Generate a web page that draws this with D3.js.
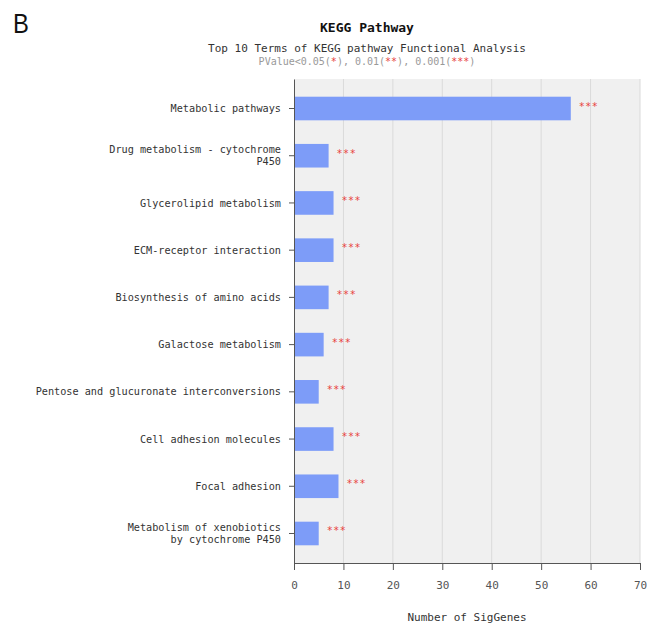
<!DOCTYPE html>
<html>
<head>
<meta charset="utf-8">
<script src="https://cdn.jsdelivr.net/npm/d3@7"></script>
<style>
  body { margin: 0; background: white; }
  text { font-family: "DejaVu Sans Mono", monospace; }
</style>
</head>
<body>
<div id="chart"></div>
<script>
// data
var terms = [
  "Metabolic pathways",
  "Drug metabolism - cytochrome P450",
  "Glycerolipid metabolism",
  "ECM-receptor interaction",
  "Biosynthesis of amino acids",
  "Galactose metabolism",
  "Pentose and glucuronate interconversions",
  "Cell adhesion molecules",
  "Focal adhesion",
  "Metabolism of xenobiotics by cytochrome P450"
];
// how each label is broken into lines
var termLines = [
  ["Metabolic pathways"],
  ["Drug metabolism - cytochrome", "P450"],
  ["Glycerolipid metabolism"],
  ["ECM-receptor interaction"],
  ["Biosynthesis of amino acids"],
  ["Galactose metabolism"],
  ["Pentose and glucuronate interconversions"],
  ["Cell adhesion molecules"],
  ["Focal adhesion"],
  ["Metabolism of xenobiotics", "by cytochrome P450"]
];
var sigGenes = [56, 7, 8, 8, 7, 6, 5, 8, 9, 5];
var stars = ["***", "***", "***", "***", "***", "***", "***", "***", "***", "***"];
var xTicks = [0, 10, 20, 30, 40, 50, 60, 70];

// colors
var barFill = "#7d9cf8";
var plotBg = "#f0f0f0";
var gridColor = "#dadada";
var starColor = "#e8413c";

var width = 656, height = 624;
var margin = {top: 79, right: 16, bottom: 61, left: 294};
var w = width - margin.left - margin.right;
var h = height - margin.top - margin.bottom;

var svg = d3.select("#chart").append("svg")
  .attr("width", width)
  .attr("height", height);

// panel letter
svg.append("text")
  .attr("x", 13)
  .attr("y", 33)
  .style("font-family", "'Liberation Sans Narrow', 'Liberation Sans', sans-serif")
  .style("font-size", "28px")
  .attr("fill", "#111")
  .attr("transform", "translate(13,0) scale(0.85,1) translate(-13,0)")
  .text("B");

// titles
var cx = 367;
svg.append("text")
  .attr("x", cx).attr("y", 32)
  .attr("text-anchor", "middle")
  .style("font-size", "13px")
  .style("font-weight", "bold")
  .attr("fill", "#111")
  .text("KEGG Pathway");

svg.append("text")
  .attr("x", cx).attr("y", 52)
  .attr("text-anchor", "middle")
  .style("font-size", "11px")
  .attr("fill", "#333")
  .text("Top 10 Terms of KEGG pathway Functional Analysis");

var pv = svg.append("text")
  .attr("x", cx).attr("y", 65)
  .attr("text-anchor", "middle")
  .style("font-size", "10px")
  .attr("fill", "#999");
[["PValue<0.05(", null], ["*", 1], ["), 0.01(", null], ["**", 1], ["), 0.001(", null], ["***", 1], [")", null]]
  .forEach(function(p) {
    pv.append("tspan").attr("fill", p[1] ? starColor : "#999").text(p[0]);
  });

var g = svg.append("g")
  .attr("transform", `translate(${margin.left},${margin.top})`);

var x = d3.scaleLinear().domain([0, 70]).range([0, w]);
var y = d3.scaleBand().domain(terms).range([0, h])
  .paddingInner(0.5).paddingOuter(0.375);

// plot background
g.append("rect")
  .attr("width", w).attr("height", h)
  .attr("fill", plotBg);

// grid
g.selectAll("line.grid")
  .data(xTicks.slice(1))
  .enter()
  .append("line")
  .attr("class", "grid")
  .attr("x1", d => x(d)).attr("x2", d => x(d))
  .attr("y1", 0).attr("y2", h)
  .attr("stroke", gridColor)
  .attr("stroke-width", 1);

// bars
g.selectAll("rect.bar")
  .data(terms)
  .enter()
  .append("rect")
  .attr("class", "bar")
  .attr("x", 0)
  .attr("y", d => y(d))
  .attr("width", (d, i) => x(sigGenes[i]))
  .attr("height", y.bandwidth())
  .attr("fill", barFill);

// significance stars
g.selectAll("text.star")
  .data(terms)
  .enter()
  .append("text")
  .attr("class", "star")
  .attr("x", (d, i) => x(sigGenes[i]) + 8)
  .attr("y", d => y(d) + y.bandwidth() / 2 + 1)
  .style("font-size", "10px")
  .style("letter-spacing", "0.5px")
  .attr("fill", starColor)
  .text((d, i) => stars[i]);

// x axis
var xAxis = g.append("g")
  .attr("transform", `translate(0,${h})`)
  .call(d3.axisBottom(x).tickValues(xTicks).tickSizeInner(7).tickSizeOuter(7).tickPadding(11));
xAxis.selectAll("text")
  .style("font-family", "'DejaVu Sans Mono', monospace")
  .style("font-size", "11px")
  .attr("fill", "#555");
xAxis.selectAll("line, path").attr("stroke", "#555");

// y axis
var yAxis = g.append("g")
  .call(d3.axisLeft(y).tickSizeInner(5).tickSizeOuter(0).tickPadding(8).tickFormat(""));
yAxis.selectAll("line, path").attr("stroke", "#555");
yAxis.selectAll(".tick").each(function(d, i) {
  var lines = termLines[terms.indexOf(d)];
  var t = d3.select(this).append("text")
    .attr("x", -13)
    .attr("text-anchor", "end")
    .style("font-family", "'DejaVu Sans Mono', monospace")
    .style("font-size", "10.2px")
    .attr("fill", "#333");
  lines.forEach(function(s, k) {
    t.append("tspan")
      .attr("x", -13)
      .attr("y", (k - (lines.length - 1) / 2) * 12)
      .attr("dy", "0.35em")
      .text(s);
  });
});

// x axis title
g.append("text")
  .attr("x", w / 2)
  .attr("y", h + 58)
  .attr("text-anchor", "middle")
  .style("font-size", "11px")
  .attr("fill", "#333")
  .text("Number of SigGenes");
</script>
</body>
</html>
